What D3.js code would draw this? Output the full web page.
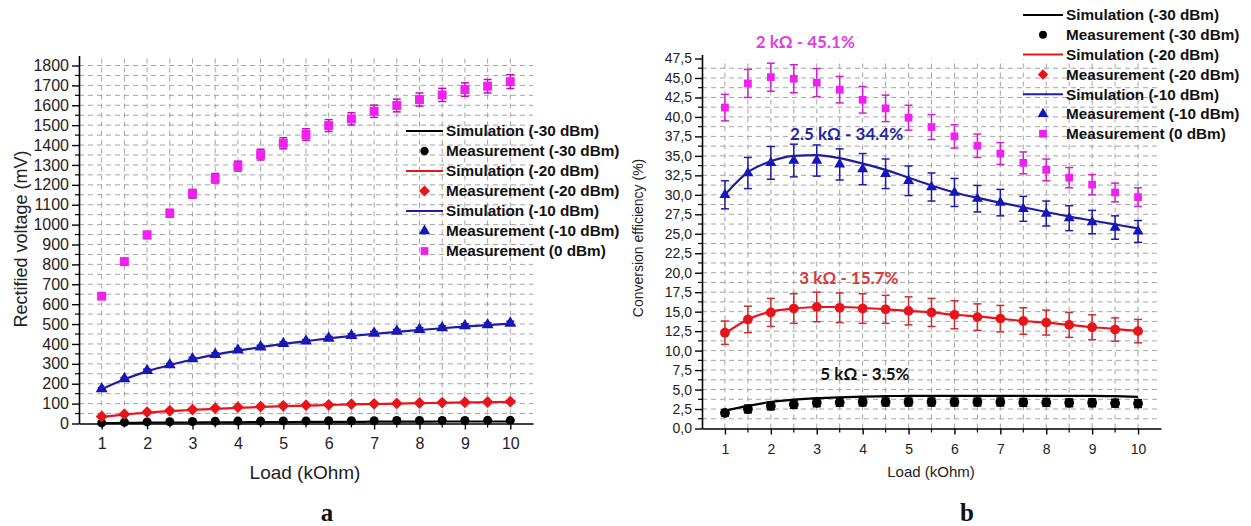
<!DOCTYPE html>
<html>
<head>
<meta charset="utf-8">
<script src="https://cdn.jsdelivr.net/npm/d3@7/dist/d3.min.js"></script>
<style>
html,body{margin:0;padding:0;background:#fff;}
svg{display:block;font-family:"Liberation Sans",Arial,sans-serif;}
</style>
</head>
<body>
<svg id="chart" width="1251" height="526"></svg>
<script>
// ---------- DATA ----------
const loads = [1,1.5,2,2.5,3,3.5,4,4.5,5,5.5,6,6.5,7,7.5,8,8.5,9,9.5,10];

// (a) Rectified voltage (mV)
const vMeas0  = [640,814,948,1057,1155,1233,1294,1352,1409,1453,1498,1532,1570,1599,1629,1652,1679,1696,1719];
const vErr0   = [12,16,18,20,22,24,25,27,28,29,30,31,31,32,33,33,34,34,35];
const vMeas10 = [174,225,266,295,325,347,369,385,402,414,429,442,454,464,473,481,491,496,504];
const vErr10  = [6,6,7,7,7,8,8,8,8,8,9,9,9,9,9,10,10,10,10];
const vSim10  = [172,222,262,294,322,346,366,384,400,414,428,440,451,461,470,479,487,495,502];
const vMeas20 = [35,47,57,64,70,77,82,85,89,92,94,97,99,101,103,105,107,108,110];
const vErr20  = [3,3,3,3,3,3,3,3,3,3,3,3,3,3,3,3,3,3,3];
const vSim20  = [33,45,55,62,68,74,79,83,87,90,93,96,98,100,102,104,106,107,109];
const vMeas30 = [3,6,8,9,10,11,12,12,13,13,14,14,14,15,15,15,15,16,16];
const vErr30  = [1,1,1,1,1,1,1,1,1,1,1,1,1,1,1,1,1,1,1];
const vSim30  = [2,3,4,5,5,6,6,7,7,8,8,8,9,9,9,10,10,10,10];

// (b) Conversion efficiency (%)
const eMeas0  = [41.2,44.3,45.1,44.9,44.4,43.5,42.2,41.1,39.9,38.7,37.5,36.3,35.3,34.1,33.2,32.2,31.3,30.3,29.7];
const eErr0   = [1.7,1.8,1.8,1.8,1.8,1.7,1.7,1.7,1.6,1.6,1.5,1.5,1.4,1.4,1.4,1.3,1.3,1.2,1.2];
const eMeas10 = [30.0,32.8,34.1,34.4,34.4,33.9,33.3,32.7,31.8,31.0,30.3,29.5,29.0,28.2,27.6,27.0,26.5,25.8,25.3];
const eErr10  = [1.8,2.0,2.1,2.1,2.0,2.0,2.0,1.9,1.9,1.8,1.8,1.7,1.7,1.6,1.6,1.6,1.5,1.5,1.4];
const eSim10  = [30.0,32.9,34.3,35.0,35.1,34.7,34.0,33.2,32.2,31.2,30.3,29.6,29.0,28.4,27.8,27.2,26.7,26.2,25.7];
const eMeas20 = [12.3,14.0,14.9,15.4,15.6,15.5,15.4,15.3,15.1,14.9,14.6,14.3,14.1,13.8,13.6,13.3,13.0,12.7,12.5];
const eErr20  = [1.5,1.7,1.8,1.9,1.9,1.9,1.9,1.8,1.8,1.8,1.8,1.7,1.7,1.7,1.6,1.6,1.6,1.5,1.5];
const eSim20  = [12.2,14.0,15.0,15.4,15.6,15.6,15.5,15.3,15.1,14.9,14.6,14.4,14.1,13.8,13.6,13.3,13.0,12.8,12.5];
const eMeas30 = [2.0,2.5,2.9,3.1,3.3,3.35,3.4,3.4,3.4,3.4,3.4,3.4,3.4,3.35,3.35,3.3,3.3,3.25,3.2];
const eErr30  = [0.4,0.5,0.5,0.5,0.5,0.5,0.5,0.5,0.5,0.5,0.5,0.5,0.5,0.5,0.5,0.5,0.5,0.5,0.5];
const eSim30  = [2.3,2.9,3.4,3.7,3.9,4.0,4.1,4.15,4.2,4.2,4.2,4.2,4.2,4.2,4.2,4.2,4.2,4.15,4.05];

const xTicks = [1,2,3,4,5,6,7,8,9,10];
const vTicks = [0,100,200,300,400,500,600,700,800,900,1000,1100,1200,1300,1400,1500,1600,1700,1800];
const eTicks = [0,2.5,5,7.5,10,12.5,15,17.5,20,22.5,25,27.5,30,32.5,35,37.5,40,42.5,45,47.5];

const legendLabels = ["Simulation (-30 dBm)","Measurement (-30 dBm)","Simulation (-20 dBm)",
  "Measurement (-20 dBm)","Simulation (-10 dBm)","Measurement (-10 dBm)","Measurement (0 dBm)"];
const annotations = [
  {text:"2 kΩ - 45.1%", x:2.75, y:48.9, color:"#e33be3"},
  {text:"2.5 kΩ - 34.4%", x:3.65, y:37.0, color:"#2525a8"},
  {text:"3 kΩ - 15.7%", x:3.7, y:18.5, color:"#e03535"},
  {text:"5 kΩ - 3.5%", x:4.05, y:6.2, color:"#111"}
];

// ---------- STYLE ----------
const C = {black:"#000", red:"#e8141b", blue:"#1414c0", blueLine:"#1c1ca6", mag:"#f020f0", redErr:"#c83030"};
const symDiamond = {draw(ctx,size){const h=Math.sqrt(size/2);ctx.moveTo(0,-h);ctx.lineTo(h,0);ctx.lineTo(0,h);ctx.lineTo(-h,0);ctx.closePath();}};

const svg = d3.select("#chart");

function zip(xs, ys, es){ return xs.map((x,i)=>({x, y:ys[i], e: es? es[i]:0})); }

function drawPanel(opt){
  const g = svg.append("g");
  const x = d3.scaleLinear().domain([0.5,10.5]).range(opt.xr);
  const y = d3.scaleLinear().domain(opt.yd).range(opt.yr);

  // grid
  const gx = d3.range(2,21).map(i=>i/2);
  g.append("g").selectAll("line").data(gx).join("line")
    .attr("x1",d=>x(d)).attr("x2",d=>x(d)).attr("y1",y(0)).attr("y2",opt.gridTop)
    .attr("stroke","#9a9a9a").attr("stroke-width",0.9).attr("stroke-dasharray","5,4");
  g.append("g").selectAll("line").data(opt.gridY).join("line")
    .attr("x1",x(0.5)).attr("x2",x(10.5)).attr("y1",d=>y(d)).attr("y2",d=>y(d))
    .attr("stroke","#9a9a9a").attr("stroke-width",0.9).attr("stroke-dasharray","5,4");

  // axes
  const xAxis = d3.axisBottom(x).tickValues(xTicks).tickSize(6).tickSizeOuter(0).tickPadding(opt.xPad).tickFormat(d3.format("d"));
  const xa = g.append("g").attr("transform",`translate(0,${y(0)})`).call(xAxis);
  xa.selectAll("text").attr("font-size",opt.tickFont).attr("fill","#222");
  xa.select(".domain").attr("stroke-width",1.6);
  xa.selectAll(".tick line").attr("stroke-width",1.4);
  xa.append("g").selectAll("line").data(d3.range(1,11).map(i=>i+0.5).filter(d=>d<10.5))
    .join("line").attr("x1",d=>x(d)).attr("x2",d=>x(d)).attr("y1",0).attr("y2",4)
    .attr("stroke","#000").attr("stroke-width",1.2);

  const yAxis = d3.axisLeft(y).tickValues(opt.yTicks).tickSize(7).tickSizeOuter(0).tickPadding(3).tickFormat(opt.fmt);
  const ya = g.append("g").attr("transform",`translate(${x(0.5)},0)`).call(yAxis);
  ya.selectAll("text").attr("font-size",opt.tickFont).attr("fill","#222");
  ya.select(".domain").attr("stroke-width",1.6);
  ya.selectAll(".tick line").attr("stroke-width",1.4);
  ya.append("g").selectAll("line").data(opt.minorY)
    .join("line").attr("x1",0).attr("x2",-4).attr("y1",d=>y(d)).attr("y2",d=>y(d))
    .attr("stroke","#000").attr("stroke-width",1.2);

  // titles
  g.append("text").attr("x",opt.xTitle[0]).attr("y",opt.xTitle[1]).attr("text-anchor","middle")
    .attr("font-size",opt.xTitleFont).attr("fill","#222").text("Load (kOhm)");
  g.append("text").attr("transform",`translate(${opt.yTitle[0]},${opt.yTitle[1]}) rotate(-90)`)
    .attr("text-anchor","middle").attr("font-size",opt.yTitleFont).attr("fill","#222").text(opt.yLabel);

  const line = d3.line().x(d=>x(d.x)).y(d=>y(d.y)).curve(d3.curveMonotoneX);

  function sim(vals,color){
    g.append("path").datum(zip(loads,vals)).attr("d",line).attr("fill","none")
      .attr("stroke",color).attr("stroke-width",2.2);
  }
  function meas(vals,errs,color,errColor,sym,size){
    const data = zip(loads,vals,errs);
    const eg = g.append("g").attr("stroke",errColor).attr("stroke-width",1.5);
    data.forEach(d=>{
      const x0=x(d.x), y1=y(d.y+d.e), y2=y(d.y-d.e);
      if (Math.abs(y2-y1) < 2) return;
      eg.append("line").attr("x1",x0).attr("x2",x0).attr("y1",y1).attr("y2",y2);
      eg.append("line").attr("x1",x0-4).attr("x2",x0+4).attr("y1",y1).attr("y2",y1);
      eg.append("line").attr("x1",x0-4).attr("x2",x0+4).attr("y1",y2).attr("y2",y2);
    });
    if (size > 0) g.append("g").selectAll("path").data(data).join("path")
      .attr("transform",d=>`translate(${x(d.x)},${y(d.y)})`)
      .attr("d",d3.symbol().type(sym).size(size)).attr("fill",color);
  }
  opt.draw(sim,meas);

  // legend
  const lg = g.append("g");
  const items = [
    {t:"line",c:C.black},{t:"sym",c:C.black,s:d3.symbolCircle,z:opt.legSz[0]},
    {t:"line",c:C.red},{t:"sym",c:C.red,s:symDiamond,z:opt.legSz[1]},
    {t:"line",c:C.blueLine},{t:"sym",c:C.blue,s:d3.symbolTriangle,z:opt.legSz[2]},
    {t:"sym",c:C.mag,s:d3.symbolSquare,z:opt.legSz[3]}
  ];
  items.forEach((it,i)=>{
    const yy = opt.leg.y0 + i*opt.leg.dy;
    if(it.t==="line"){
      lg.append("line").attr("x1",opt.leg.x0).attr("x2",opt.leg.x1).attr("y1",yy).attr("y2",yy)
        .attr("stroke",it.c).attr("stroke-width",2);
    } else {
      lg.append("path").attr("transform",`translate(${(opt.leg.x0+opt.leg.x1)/2},${yy})`)
        .attr("d",d3.symbol().type(it.s).size(it.z)).attr("fill",it.c);
    }
    lg.append("text").attr("x",opt.leg.x1+3).attr("y",yy).attr("dy","0.35em")
      .attr("font-size",opt.leg.font).attr("font-weight","bold").attr("fill","#111").text(legendLabels[i]);
  });
  return {g,x,y};
}

// ---------- PANEL a ----------
drawPanel({
  xr:[79,533], yd:[0,1850], yr:[423.5, 423.5-1850*358/1800],
  gridTop: 56, gridY: d3.range(1,37).map(i=>i*50),
  yTicks: vTicks, minorY: d3.range(0,37).map(i=>i*100+50).filter(d=>d<1850),
  fmt: d3.format("d"), tickFont:16, xPad:8, xTitleFont:19, yTitleFont:18,
  xTitle:[305,479], yTitle:[27,239], yLabel:"Rectified voltage (mV)",
  legSz:[55,60,55,60],
  leg:{x0:406,x1:443,y0:131,dy:20,font:15.3},
  draw:(sim,meas)=>{
    meas(vMeas30,vErr30,C.black,C.black,d3.symbolCircle,64);
    sim(vSim30,C.black);
    meas(vMeas20,vErr20,C.red,C.redErr,symDiamond,70);
    sim(vSim20,C.red);
    meas(vMeas10,vErr10,C.blue,C.blue,d3.symbolTriangle,62);
    sim(vSim10,C.blueLine);
    meas(vMeas0,vErr0,C.mag,"#c010c0",d3.symbolSquare,80);
  }
});

// ---------- PANEL b ----------
const pb = drawPanel({
  xr:[702,1161], yd:[0,48], yr:[428.5, 428.5-48*370/47.5],
  gridTop: 59, gridY: d3.range(1,38).map(i=>i*1.25),
  yTicks: eTicks, minorY: d3.range(0,38).map(i=>i*2.5+1.25).filter(d=>d<48),
  fmt: d=>d3.format(".1f")(d).replace(".",","), tickFont:14, xPad:10, xTitleFont:15, yTitleFont:14,
  xTitle:[931,477], yTitle:[643,238], yLabel:"Conversion efficiency (%)",
  legSz:[50,55,50,60],
  leg:{x0:1023,x1:1063,y0:15,dy:19.8,font:15.3},
  draw:(sim,meas)=>{
    meas(eMeas30,eErr30,C.black,C.black,d3.symbolCircle,75);
    sim(eSim30,C.black);
    meas(eMeas20,eErr20,C.red,C.redErr,d3.symbolCircle,0);
    sim(eSim20,C.red);
    meas(eMeas20,eMeas20.map(()=>0),C.red,C.redErr,d3.symbolCircle,75);
    meas(eMeas10,eErr10,C.blue,C.blueLine,d3.symbolTriangle,52);
    sim(eSim10,C.blueLine);
    meas(eMeas0,eErr0,C.mag,"#d020d0",d3.symbolSquare,60);
  }
});

// annotations
pb.g.append("g").selectAll("text").data(annotations).join("text")
  .attr("x",d=>pb.x(d.x)).attr("y",d=>pb.y(d.y)).attr("text-anchor","middle")
  .attr("font-family","Lato, 'Open Sans', sans-serif").attr("font-weight","bold")
  .attr("font-size",17).attr("fill",d=>d.color).text(d=>d.text);

// panel letters
svg.append("text").attr("x",327).attr("y",521).attr("text-anchor","middle")
  .attr("font-family","'Liberation Serif','Times New Roman',serif").attr("font-weight","bold")
  .attr("font-size",25).attr("fill","#111").text("a");
svg.append("text").attr("x",967).attr("y",521).attr("text-anchor","middle")
  .attr("font-family","'Liberation Serif','Times New Roman',serif").attr("font-weight","bold")
  .attr("font-size",25).attr("fill","#111").text("b");
</script>
</body>
</html>
